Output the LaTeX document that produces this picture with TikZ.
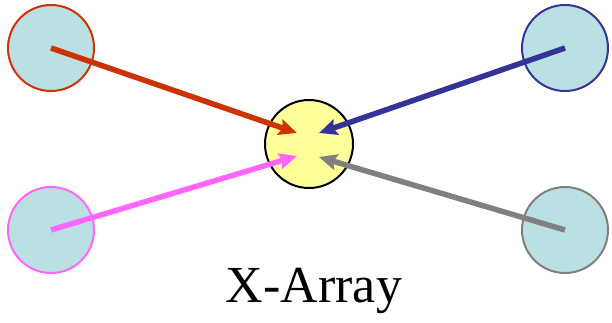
\documentclass[tikz,border=0pt]{standalone}
\usepackage{fontspec}
\setmainfont{Liberation Serif}
\usetikzlibrary{arrows.meta}
\definecolor{cred}{HTML}{CC3300}
\definecolor{cblue}{HTML}{333399}
\definecolor{cmag}{HTML}{FF66FF}
\definecolor{cgray}{HTML}{808080}
\definecolor{cfill}{HTML}{BBE0E3}
\definecolor{cyel}{HTML}{FFFF99}
\tikzset{
  src/.style={circle, fill=cfill, line width=2pt, minimum size=86pt, inner sep=0pt},
  hub/.style={circle, fill=cyel, draw=black, line width=2pt, minimum size=88pt, inner sep=0pt},
  conn/.style={line width=5.5pt, -{Stealth[length=18pt,width=16pt,inset=3pt]}},
}
\begin{document}
\begin{tikzpicture}[x=1pt,y=-1pt]
\useasboundingbox (0,0) rectangle (612,322);
\node[hub] (c) at (309,144) {};
\node[src, draw=cred] (tl) at (51,48) {};
\node[src, draw=cblue] (tr) at (565,48) {};
\node[src, draw=cmag] (bl) at (51,230) {};
\node[src, draw=cgray] (br) at (565,230) {};
\coordinate (ttl) at (297,133);
\coordinate (ttr) at (319,133);
\coordinate (tbl) at (297,156);
\coordinate (tbr) at (319,157);
\draw[conn, cred] (tl.center) -- (ttl);
\draw[conn, cblue] (tr.center) -- (ttr);
\draw[conn, cmag] (bl.center) -- (tbl);
\draw[conn, cgray] (br.center) -- (tbr);
\node[font=\fontsize{52}{56}\selectfont, anchor=base] (lbl) at (314,302) {X-Array};
\end{tikzpicture}
\end{document}
